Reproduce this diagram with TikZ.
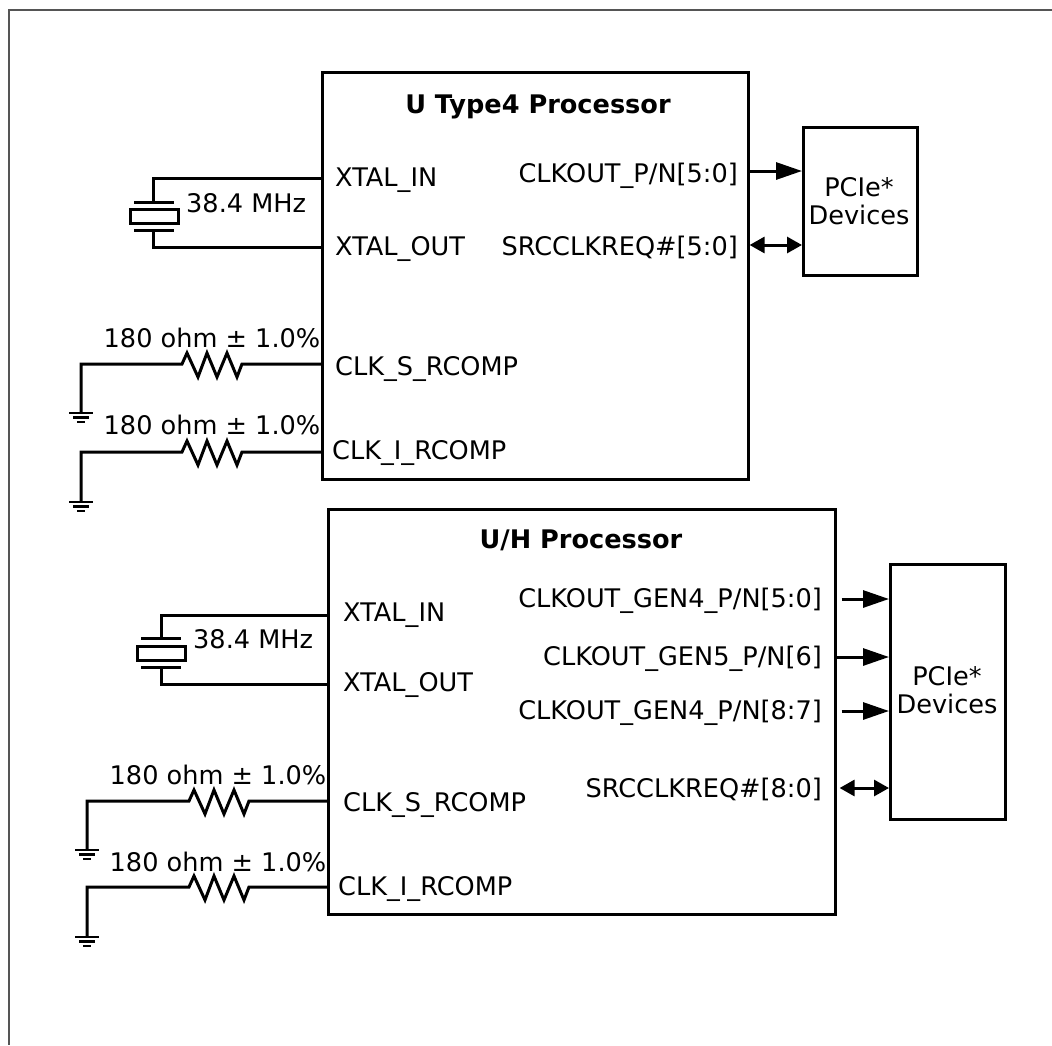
\documentclass[tikz,border=0pt]{standalone}
\usepackage{fontspec}
\setmainfont{DejaVu Sans}
\usetikzlibrary{arrows.meta}
\definecolor{framegray}{HTML}{555555}
\begin{document}
\begin{tikzpicture}[x=1pt,y=-1pt,
  wire/.style={line width=3pt, black},
  gnd/.style={line width=2.8pt, black},
  framel/.style={line width=2.6pt, framegray},
  box/.style={draw, line width=2.6pt, inner sep=0pt},
  lbl/.style={inner sep=0pt, text height=19pt, text depth=0pt, font=\fontsize{25.6}{28}\selectfont},
  ttl/.style={inner sep=0pt, font=\fontsize{25.6}{28}\selectfont\bfseries},
  devtxt/.style={inner sep=0pt, align=center, font=\fontsize{25.6}{28}\selectfont},
  bigarrow/.style={-{Triangle[length=26pt,width=17pt]}},
  dblarrow/.style={{Triangle[length=15pt,width=16pt]}-{Triangle[length=15pt,width=16pt]}}
]
\useasboundingbox (0,0) rectangle (1052,1045);
\draw[framel] (1052,10) -- (9,10) -- (9,1045);

% ---------- top processor ----------
\node[box, minimum width=426pt, minimum height=407pt, anchor=north west] (cpu1) at (321,71) {};
\node[ttl] (t1) at (538,107) {U Type4 Processor};
\node[lbl, anchor=west] (xin1) at (335,177) {XTAL\_IN};
\node[lbl, anchor=west] (xout1) at (335,246) {XTAL\_OUT};
\node[lbl, anchor=east] (clk1) at (738,173) {CLKOUT\_P/N[5:0]};
\node[lbl, anchor=east] (src1) at (738,246) {SRCCLKREQ\#[5:0]};
\node[lbl, anchor=west] (srcomp1) at (335,366) {CLK\_S\_RCOMP};
\node[lbl, anchor=west] (ircomp1) at (332,450) {CLK\_I\_RCOMP};

\node[box, minimum width=114pt, minimum height=148pt, anchor=north west] (pcie1) at (802,126) {};
\node[devtxt] (d1) at (859,201) {PCIe*\\Devices};
\draw[wire, bigarrow] (cpu1.east |- 0,171) -- (pcie1.west |- 0,171);
\draw[wire, dblarrow] (cpu1.east |- 0,245) -- (pcie1.west |- 0,245);

% crystal top
\draw[wire] (cpu1.west |- 0,178) -- (153,178) -- (153,202);
\draw[wire] (134,202) -- (174,202);
\draw[wire] (130,209) rectangle (178,223);
\draw[wire] (134,230) -- (174,230);
\draw[wire] (153,230) -- (153,247) -- (cpu1.west |- 0,247);
\node[lbl, anchor=west] (f1) at (186,203) {38.4 MHz};

% resistors top
\coordinate (g1) at (81,413);
\coordinate (r1) at (182,364);
\draw[wire] (g1) |- (r1) -- ++(5,-11) -- ++(11,24) -- ++(9,-24) -- ++(10,24) -- ++(10,-24) -- ++(10,24) -- ++(5,-13) -- (cpu1.west |- r1);
\node[lbl] (rl1) at (212,338) {180 ohm ± 1.0\%};
\draw[gnd] (69,413) -- (93,413) (73,417.5) -- (89,417.5) (77,422) -- (85,422);

\coordinate (g2) at (81,502);
\coordinate (r2) at (182,452);
\draw[wire] (g2) |- (r2) -- ++(5,-11) -- ++(11,24) -- ++(9,-24) -- ++(10,24) -- ++(10,-24) -- ++(10,24) -- ++(5,-13) -- (cpu1.west |- r2);
\node[lbl] (rl2) at (212,425) {180 ohm ± 1.0\%};
\draw[gnd] (69,502) -- (93,502) (73,506.5) -- (89,506.5) (77,511) -- (85,511);

% ---------- bottom processor ----------
\node[box, minimum width=507pt, minimum height=405pt, anchor=north west] (cpu2) at (327,508) {};
\node[ttl] (t2) at (581,540) {U/H Processor};
\node[lbl, anchor=west] (xin2) at (343,612) {XTAL\_IN};
\node[lbl, anchor=west] (xout2) at (343,682) {XTAL\_OUT};
\node[lbl, anchor=east] (c2a) at (822,598) {CLKOUT\_GEN4\_P/N[5:0]};
\node[lbl, anchor=east] (c2b) at (822,656) {CLKOUT\_GEN5\_P/N[6]};
\node[lbl, anchor=east] (c2c) at (822,710) {CLKOUT\_GEN4\_P/N[8:7]};
\node[lbl, anchor=east] (src2) at (822,788) {SRCCLKREQ\#[8:0]};
\node[lbl, anchor=west] (srcomp2) at (343,802) {CLK\_S\_RCOMP};
\node[lbl, anchor=west] (ircomp2) at (338,886) {CLK\_I\_RCOMP};

\node[box, minimum width=115pt, minimum height=255pt, anchor=north west] (pcie2) at (889,563) {};
\node[devtxt] (d2) at (947,690) {PCIe*\\Devices};
\draw[wire, bigarrow, shorten <=5pt] (cpu2.east |- 0,599) -- (pcie2.west |- 0,599);
\draw[wire, bigarrow] (cpu2.east |- 0,657) -- (pcie2.west |- 0,657);
\draw[wire, bigarrow, shorten <=5pt] (cpu2.east |- 0,711) -- (pcie2.west |- 0,711);
\draw[wire, dblarrow, shorten <=3pt] (cpu2.east |- 0,788) -- (pcie2.west |- 0,788);

% crystal bottom
\draw[wire] (cpu2.west |- 0,615) -- (161,615) -- (161,638);
\draw[wire] (141,638) -- (181,638);
\draw[wire] (137,646) rectangle (185,660);
\draw[wire] (141,667) -- (181,667);
\draw[wire] (161,667) -- (161,684) -- (cpu2.west |- 0,684);
\node[lbl, anchor=west] (f2) at (193,639) {38.4 MHz};

% resistors bottom
\coordinate (g3) at (87,850);
\coordinate (r3) at (189,801);
\draw[wire] (g3) |- (r3) -- ++(5,-11) -- ++(11,24) -- ++(9,-24) -- ++(10,24) -- ++(10,-24) -- ++(10,24) -- ++(5,-13) -- (cpu2.west |- r3);
\node[lbl] (rl3) at (218,775) {180 ohm ± 1.0\%};
\draw[gnd] (75,850) -- (99,850) (79,854.5) -- (95,854.5) (83,859) -- (91,859);

\coordinate (g4) at (87,937);
\coordinate (r4) at (189,887);
\draw[wire] (g4) |- (r4) -- ++(5,-11) -- ++(11,24) -- ++(9,-24) -- ++(10,24) -- ++(10,-24) -- ++(10,24) -- ++(5,-13) -- (cpu2.west |- r4);
\node[lbl] (rl4) at (218,862) {180 ohm ± 1.0\%};
\draw[gnd] (75,937) -- (99,937) (79,941.5) -- (95,941.5) (83,946) -- (91,946);
\end{tikzpicture}
\end{document}
